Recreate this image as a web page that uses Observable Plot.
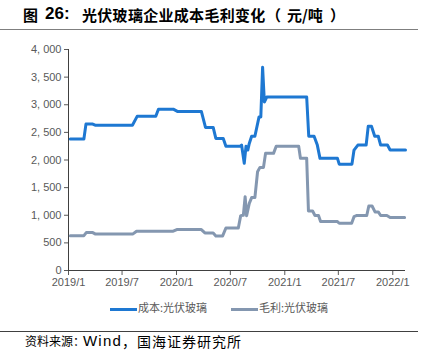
<!DOCTYPE html>
<html><head><meta charset="utf-8">
<script src="https://cdn.jsdelivr.net/npm/d3@7"></script>
<script src="https://cdn.jsdelivr.net/npm/@observablehq/plot@0.6"></script>
<style>
body{margin:0;background:#fff;width:428px;height:363px;position:relative;overflow:hidden;font-family:"Noto Sans CJK SC",sans-serif;}
.t{position:absolute;top:5px;font-weight:bold;color:#000;white-space:nowrap;line-height:20px;font-size:15px;}
#tline{position:absolute;left:0;top:29px;width:418px;border-top:1.5px solid #7f7f7f;}
#chart{position:absolute;left:0;top:35px;}
#legend{position:absolute;top:299px;left:0;width:428px;font-size:11px;color:#595959;line-height:16px;}
.item{position:absolute;top:0;white-space:nowrap;}
.sw{display:inline-block;width:27px;height:3px;vertical-align:middle;margin-right:1px;}
#cline{position:absolute;left:0;top:331px;width:418px;border-top:1.5px solid #404040;}
.c{position:absolute;top:332px;color:#000;white-space:nowrap;line-height:18px;}
</style></head>
<body>
<div class="t" style="left:23px;">图</div>
<div class="t" style="left:45px;font-size:17px;font-family:'Liberation Sans',Arial,sans-serif;top:4px;">26:</div>
<div class="t" style="left:82px;letter-spacing:0.3px;">光伏玻璃企业成本毛利变化</div>
<div class="t" style="left:266px;">（</div>
<div class="t" style="left:287px;">元/吨</div>
<div class="t" style="left:330px;">）</div>
<div id="tline"></div>
<div id="chart"></div>
<div id="legend"></div>
<div id="cline"></div>
<div class="c" style="left:25px;font-size:12px;">资料来源：</div>
<div class="c" style="left:83px;font-size:15px;letter-spacing:1.2px;font-family:'Liberation Sans',Arial,sans-serif;">Wind</div>
<div class="c" style="left:122px;font-size:14px;letter-spacing:1px;">，国海证券研究所</div>
<script>
const seriesNames = ["成本:光伏玻璃", "毛利:光伏玻璃"];
const seriesColors = ["#1e78d2", "#8497b0"];

const costDates = ["2019-01-07","2019-02-22","2019-03-01","2019-03-24","2019-04-01","2019-08-05","2019-08-21","2019-10-23","2019-11-01","2019-12-21","2020-01-04","2020-03-25","2020-04-08","2020-05-04","2020-05-13","2020-06-07","2020-06-16","2020-08-04","2020-08-08","2020-08-17","2020-08-23","2020-08-29","2020-09-03","2020-09-11","2020-09-22","2020-10-06","2020-10-12","2020-10-18","2020-10-24","2020-11-01","2021-03-16","2021-03-23","2021-04-10","2021-04-21","2021-04-30","2021-06-28","2021-07-04","2021-08-16","2021-08-23","2021-09-05","2021-10-03","2021-10-10","2021-10-21","2021-11-01","2021-11-13","2021-11-21","2021-12-14","2021-12-23","2022-02-13"];
const costValues = [2380,2380,2650,2650,2630,2630,2790,2790,2920,2920,2880,2880,2590,2590,2390,2390,2250,2250,2270,1940,2250,2180,2300,2430,2430,2780,2780,3680,3050,3140,3140,2430,2430,2270,2030,2030,1925,1925,2180,2270,2270,2610,2610,2430,2430,2270,2270,2180,2180];

const marginDates = ["2019-01-07","2019-02-22","2019-03-02","2019-03-24","2019-04-01","2019-08-07","2019-08-19","2019-12-21","2020-01-02","2020-03-25","2020-04-06","2020-05-04","2020-05-13","2020-06-05","2020-06-16","2020-07-28","2020-08-05","2020-08-14","2020-08-20","2020-08-25","2020-09-03","2020-09-11","2020-09-22","2020-10-01","2020-10-09","2020-10-21","2020-10-28","2020-11-24","2020-12-03","2021-02-17","2021-02-23","2021-03-16","2021-03-22","2021-04-05","2021-04-13","2021-04-25","2021-05-02","2021-06-28","2021-07-04","2021-08-15","2021-08-23","2021-09-02","2021-10-05","2021-10-12","2021-10-23","2021-11-02","2021-11-13","2021-11-21","2021-12-12","2021-12-23","2022-02-10"];
const marginValues = [630,630,686,686,662,662,711,711,740,740,680,680,626,626,770,770,993,1000,1336,990,1216,1320,1320,1787,1866,1866,2120,2120,2250,2250,2030,2030,1078,1078,996,996,885,885,855,855,975,996,996,1168,1168,1060,1060,996,996,960,960];

const xTicks = ["2019-01-01","2019-07-01","2020-01-01","2020-07-01","2021-01-01","2021-07-01","2022-01-01"];
const yTicks = [0,500,1000,1500,2000,2500,3000,3500,4000];

const cost = costDates.map((d,i)=>({date:new Date(d), value:costValues[i]}));
const margin = marginDates.map((d,i)=>({date:new Date(d), value:marginValues[i]}));
const x0 = new Date(xTicks[0]);
const x1 = new Date("2022-02-13");

const chart = Plot.plot({
  width:428, height:265,
  marginLeft:68, marginRight:23, marginTop:14, marginBottom:30,
  style:{fontSize:"11px", fontFamily:"'Liberation Sans', Arial, sans-serif", color:"#595959", background:"transparent"},
  x:{type:"utc", domain:[x0, x1], ticks: xTicks.map(d=>new Date(d)),
     tickFormat: d => `${d.getUTCFullYear()}/${d.getUTCMonth()+1}`, tickSize:5, tickPadding:3, label:null},
  y:{domain:[0,4000], ticks:yTicks, tickFormat: d => d3.format(",")(d).replace(",", ", "), tickSize:4, tickPadding:3, label:null},
  marks:[
    Plot.ruleX([x0], {stroke:"#404040", strokeWidth:1}),
    Plot.ruleY([0], {stroke:"#404040", strokeWidth:1}),
    Plot.lineY(margin, {x:"date", y:"value", stroke:seriesColors[1], strokeWidth:3}),
    Plot.lineY(cost, {x:"date", y:"value", stroke:seriesColors[0], strokeWidth:3})
  ]
});
document.getElementById("chart").appendChild(chart);

const legend = document.getElementById("legend");
const lx = [110, 231];
seriesNames.forEach((n,i)=>{
  const it = document.createElement("div");
  it.className = "item";
  it.style.left = lx[i] + "px";
  it.innerHTML = `<span class="sw" style="background:${seriesColors[i]}"></span>${n}`;
  legend.appendChild(it);
});
</script>
</body></html>
